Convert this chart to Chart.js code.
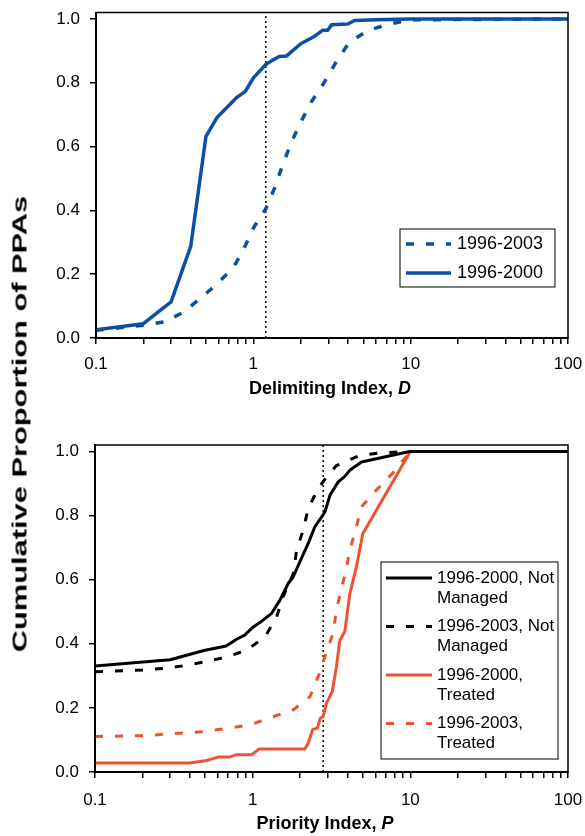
<!DOCTYPE html>
<html>
<head>
<meta charset="utf-8">
<script src="https://cdn.jsdelivr.net/npm/chart.js@4.4.1/dist/chart.umd.min.js"></script>
<style>
  body { margin: 0; width: 585px; height: 836px; background: #fff; overflow: hidden; position: relative;
         font-family: "Liberation Sans", Arial, sans-serif; }
  .pane { position: absolute; left: 0; width: 585px; }
  .xtitle { position: absolute; font-weight: bold; font-size: 18px; color: #000; white-space: nowrap;
            transform: translate(-50%, -50%); }
  #ytitle { position: absolute; left: 20px; top: 424px; font-weight: bold; font-size: 19.5px; white-space: nowrap;
            transform: translate(-50%, -50%) rotate(-90deg) scaleX(1.58); }
</style>
</head>
<body>
<div class="pane" style="top:0;height:410px"><canvas id="topChart" width="585" height="410"></canvas></div>
<div class="pane" style="top:410px;height:426px"><canvas id="bottomChart" width="585" height="426"></canvas></div>
<div class="xtitle" style="left:330px;top:388px">Delimiting Index, <i>D</i></div>
<div class="xtitle" style="left:325px;top:823px">Priority Index, <i>P</i></div>
<div id="ytitle">Cumulative Proportion of PPAs</div>

<script>
// tick values
const majorLabels = [0.1, 1, 10, 100];
const xTicks = [];
[0.1, 1, 10].forEach(d => { for (let m = 1; m <= 9; m++) xTicks.push(+(m * d).toFixed(1)); });
xTicks.push(100);
const yTicks = [0, 0.2, 0.4, 0.6, 0.8, 1.0];

// top panel: delimiting index D
const dRef = 1.2;
const d2000X = [0.1, 0.2, 0.3, 0.4, 0.5, 0.59, 0.79, 0.89, 1.0, 1.2, 1.32, 1.46, 1.63, 2.0, 2.44, 2.75, 2.97, 3.15, 3.98, 4.4, 6.0, 10, 100];
const d2000Y = [0.026, 0.045, 0.113, 0.287, 0.632, 0.692, 0.755, 0.773, 0.815, 0.857, 0.87, 0.882, 0.884, 0.922, 0.945, 0.964, 0.964, 0.982, 0.984, 0.995, 0.997, 1.0, 1.0];
const d2003X = [0.1, 0.2, 0.27, 0.36, 0.47, 0.59, 0.75, 0.87, 1.01, 1.2, 1.36, 1.53, 1.73, 2.0, 2.35, 2.8, 3.38, 4.05, 5.3, 7.3, 10, 100];
const d2003Y = [0.024, 0.04, 0.05, 0.081, 0.128, 0.17, 0.222, 0.28, 0.348, 0.405, 0.468, 0.54, 0.609, 0.676, 0.742, 0.798, 0.867, 0.925, 0.963, 0.984, 0.997, 1.0];

// bottom panel: priority index P
const pRef = 2.8;
const nm2000X = [0.1, 0.3, 0.49, 0.68, 0.79, 0.89, 1.0, 1.11, 1.32, 1.49, 1.68, 1.81, 1.99, 2.25, 2.48, 2.74, 2.87, 3.1, 3.49, 3.84, 4.13, 4.9, 9.9, 100];
const nm2000Y = [0.331, 0.35, 0.379, 0.393, 0.414, 0.427, 0.451, 0.466, 0.495, 0.536, 0.588, 0.609, 0.655, 0.713, 0.765, 0.796, 0.811, 0.865, 0.905, 0.922, 0.941, 0.967, 1.0, 1.0];
const nm2003X = [0.1, 0.2, 0.29, 0.36, 0.5, 0.68, 0.92, 1.2, 1.42, 1.56, 1.81, 1.9, 2.09, 2.25, 2.6, 2.94, 3.4, 4.8, 6.4, 10, 100];
const nm2003Y = [0.313, 0.318, 0.324, 0.331, 0.344, 0.358, 0.381, 0.422, 0.484, 0.547, 0.619, 0.692, 0.754, 0.822, 0.884, 0.92, 0.956, 0.988, 0.995, 1.0, 1.0];
const tr2000X = [0.1, 0.4, 0.51, 0.61, 0.72, 0.79, 0.99, 1.1, 2.14, 2.25, 2.4, 2.57, 2.69, 2.8, 2.94, 3.2, 3.4, 3.57, 3.84, 4.13, 4.55, 5.0, 10, 100];
const tr2000Y = [0.028, 0.028, 0.036, 0.047, 0.047, 0.054, 0.054, 0.072, 0.072, 0.09, 0.132, 0.137, 0.168, 0.173, 0.215, 0.251, 0.329, 0.41, 0.438, 0.555, 0.64, 0.744, 1.0, 1.0];
const tr2003X = [0.1, 0.2, 0.3, 0.49, 0.68, 0.96, 1.36, 1.81, 2.31, 2.64, 2.94, 3.24, 3.4, 3.66, 3.93, 4.13, 4.55, 4.9, 6.1, 7.9, 10, 100];
const tr2003Y = [0.111, 0.113, 0.119, 0.126, 0.136, 0.147, 0.173, 0.194, 0.235, 0.305, 0.375, 0.433, 0.507, 0.572, 0.635, 0.692, 0.765, 0.827, 0.88, 0.937, 1.0, 1.0];

const blue = '#0D4FA3';
const red = '#EF5230';
const yMax = 1.02;

Chart.defaults.font.family = '"Liberation Sans", Arial, sans-serif';
Chart.defaults.color = '#000';

function series(xs, ys) {
  return xs.map((x, i) => ({ x, y: ys[i] }));
}

function line(data, color, width, dash) {
  return { data, borderColor: color, borderWidth: width, borderDash: dash || [],
           pointRadius: 0, tension: 0, fill: false, borderCapStyle: 'butt', borderJoinStyle: 'round' };
}

function refLine(x) {
  return line([{ x, y: 0 }, { x, y: yMax }], '#000', 1.5, [2, 3]);
}

// plot frame + legend drawn inside the chart area
const frameLegend = {
  id: 'frameLegend',
  afterDatasetsDraw(chart, args, opts) {
    const { ctx, chartArea: a } = chart;
    ctx.save();
    ctx.strokeStyle = '#000';
    ctx.lineWidth = 1.5;
    ctx.strokeRect(a.left, a.top, a.right - a.left, a.bottom - a.top);

    const b = opts.box;
    ctx.fillStyle = '#fff';
    ctx.fillRect(b.x, b.y, b.w, b.h);
    ctx.lineWidth = 1;
    ctx.strokeRect(b.x, b.y, b.w, b.h);
    ctx.font = opts.fontSize + 'px "Liberation Sans", Arial, sans-serif';
    ctx.textBaseline = 'middle';
    opts.items.forEach((it, i) => {
      const ds = chart.data.datasets[it.dataset];
      const y = opts.rowY + i * opts.rowStep;
      ctx.beginPath();
      ctx.strokeStyle = ds.borderColor;
      ctx.lineWidth = ds.borderWidth;
      ctx.setLineDash(ds.borderDash);
      ctx.moveTo(opts.sampleX0, y);
      ctx.lineTo(opts.sampleX1, y);
      ctx.stroke();
      ctx.setLineDash([]);
      ctx.fillStyle = '#000';
      it.text.forEach((t, k) => ctx.fillText(t, opts.textX, y + k * opts.lineHeight));
    });
    ctx.restore();
  }
};

function makeChart(id, cfg) {
  return new Chart(document.getElementById(id), {
    type: 'line',
    data: { datasets: cfg.datasets },
    options: {
      responsive: false,
      animation: false,
      layout: { padding: cfg.padding },
      plugins: { legend: { display: false }, tooltip: { enabled: false }, frameLegend: cfg.legend },
      scales: {
        x: {
          type: 'logarithmic', min: 0.1, max: 100,
          afterBuildTicks: s => { s.ticks = xTicks.map(v => ({ value: v })); },
          afterFit: s => { s.height = cfg.xHeight; s.paddingLeft = 0; s.paddingRight = 0; },
          grid: { drawOnChartArea: false, drawTicks: true, tickLength: 6, color: '#000', lineWidth: 1.5 },
          border: { display: true, color: '#000', width: 2 },
          ticks: { autoSkip: false, maxRotation: 0, padding: cfg.xPad, font: { size: 17 }, color: '#000',
                   callback: v => majorLabels.includes(v) ? String(v) : '' }
        },
        y: {
          min: 0, max: yMax,
          afterBuildTicks: s => { s.ticks = yTicks.map(v => ({ value: v })); },
          afterFit: s => { s.width = cfg.yWidth; s.paddingTop = 0; s.paddingBottom = 0; },
          grid: { drawOnChartArea: false, drawTicks: true, tickLength: 6, color: '#000', lineWidth: 1.5 },
          border: { display: true, color: '#000', width: 2 },
          ticks: { padding: 10, font: { size: 17 }, color: '#000', callback: v => v.toFixed(1) }
        }
      }
    },
    plugins: [frameLegend]
  });
}

makeChart('topChart', {
  padding: { top: 12.5, right: 17, left: 0, bottom: 0 },
  yWidth: 96, xHeight: 72, xPad: 10,
  datasets: [
    line(series(d2003X, d2003Y), blue, 3.5, [8, 12]),
    line(series(d2000X, d2000Y), blue, 3.5),
    refLine(dRef)
  ],
  legend: {
    box: { x: 400, y: 229, w: 155, h: 58 },
    sampleX0: 406, sampleX1: 451, textX: 457, rowY: 244, rowStep: 29, lineHeight: 20, fontSize: 18,
    items: [{ dataset: 0, text: ['1996-2003'] }, { dataset: 1, text: ['1996-2000'] }]
  }
});

makeChart('bottomChart', {
  padding: { top: 35, right: 17, left: 0, bottom: 0 },
  yWidth: 95, xHeight: 64, xPad: 12,
  datasets: [
    line(series(nm2000X, nm2000Y), '#000', 3),
    line(series(nm2003X, nm2003Y), '#000', 3, [8, 12]),
    line(series(tr2000X, tr2000Y), red, 3),
    line(series(tr2003X, tr2003Y), red, 3, [8, 12]),
    refLine(pRef)
  ],
  legend: {
    box: { x: 381, y: 152, w: 177, h: 197 },
    sampleX0: 386, sampleX1: 432, textX: 437, rowY: 168, rowStep: 48.5, lineHeight: 20, fontSize: 17,
    items: [
      { dataset: 0, text: ['1996-2000, Not', 'Managed'] },
      { dataset: 1, text: ['1996-2003, Not', 'Managed'] },
      { dataset: 2, text: ['1996-2000,', 'Treated'] },
      { dataset: 3, text: ['1996-2003,', 'Treated'] }
    ]
  }
});
</script>
</body>
</html>
